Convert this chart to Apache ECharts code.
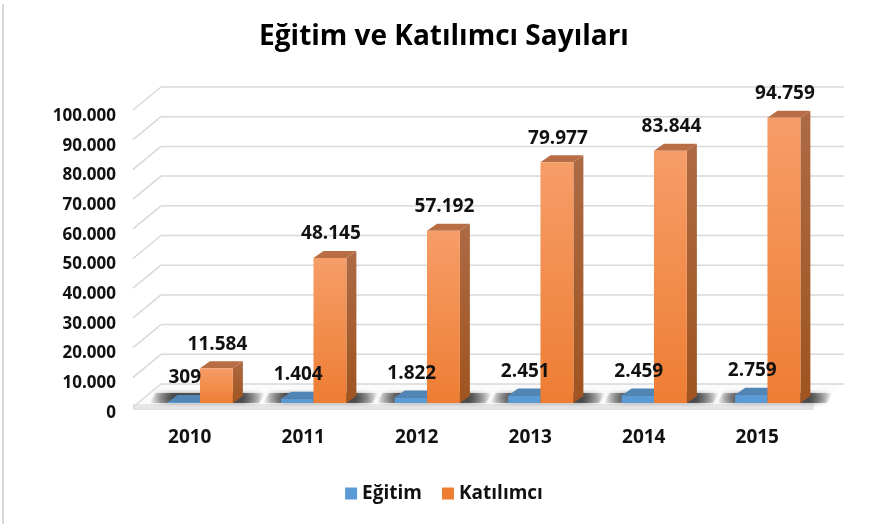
<html>
<head>
<meta charset="utf-8" />
<script src='https://cdn.jsdelivr.net/npm/echarts@6/dist/echarts.min.js'></script>
<style type="text/css">
	html, body, #main {
	width: 100%;
	height: 100%;
	margin: 0;
	background: #fff;
}
</style>
</head>
<body>

	<div id='main'></div>
	<script>
		var chart = echarts.init(document.getElementById('main'));

		// data
		var years = ['2010', '2011', '2012', '2013', '2014', '2015'];
		var egitim = [309, 1404, 1822, 2451, 2459, 2759];
		var katilimci = [11584, 48145, 57192, 79977, 83844, 94759];
		var yTicks = [0, 10000, 20000, 30000, 40000, 50000, 60000, 70000, 80000, 90000, 100000];

		var FONT = '"Open Sans", "DejaVu Sans", sans-serif';

		function fmt(n) {
			return String(n).replace(/\B(?=(\d{3})+(?!\d))/g, '.');
		}

		// depth of the floor / wall and of the bars
		var wallDx = 28, wallDy = -23;
		var barDx = 10, barDy = -7;

		// walls are drawn on grid 1 (front edge of the box), bars on grid 0 (middle of the depth)
		function wallItem(params, api) {
			var cs = params.coordSys;
			var y = api.coord([0, api.value(1)])[1];
			var xl = cs.x, xr = cs.x + cs.width;
			var children = [];
			if (api.value(1) === 0) {
				children.push({
					type : 'polygon',
					shape : { points : [ [xl, y], [xr, y], [xr + wallDx + 1, y + wallDy], [xl + wallDx, y + wallDy] ] },
					style : { fill : '#fbfbfb' }
				});
				children.push({
					type : 'rect',
					shape : { x : xl, y : y - 3, width : xr - xl, height : 4 },
					style : { fill : '#e6e6e6' }
				});
				children.push({
					type : 'line',
					shape : { x1 : xl, y1 : y + 2, x2 : xr, y2 : y + 2 },
					style : { stroke : '#d9d9d9', lineWidth : 1.5 }
				});
			}
			children.push({
				type : 'line',
				shape : { x1 : xl, y1 : y, x2 : xl + wallDx, y2 : y + wallDy },
				style : { stroke : '#d9d9d9', lineWidth : 1.5 }
			});
			children.push({
				type : 'line',
				shape : { x1 : xl + wallDx, y1 : y + wallDy, x2 : xr + wallDx + 2, y2 : y + wallDy },
				style : { stroke : '#d9d9d9', lineWidth : 1.5 }
			});
			return { type : 'group', children : children };
		}

		function barPos(api, i, kind) {
			var base = api.coord([i, 0]);
			var band = api.size([1, 0])[0];
			var c = base[0];
			if (kind === 0) return [c - 0.195 * band, c + 0.09 * band];
			return [c + 0.09 * band, c + 0.38 * band];
		}

		function barItem(kind, front, side, topc) {
			return function(params, api) {
				var i = api.value(0), v = api.value(1);
				var base = api.coord([i, 0])[1];
				var top = api.coord([i, v])[1];
				var p = barPos(api, i, kind);
				var x0 = p[0], x1 = p[1];
				var children = [];
				if (kind === 0) {
					// soft shadow on the floor
					var o = barPos(api, i, 1);
					var left = x0 - 18, right = o[1] + barDx + 16;
					children.push({
						type : 'polygon',
						shape : { points : [ [left, base], [right, base], [right + 6, base - 10], [left + 6, base - 10] ] },
						style : {
							fill : new echarts.graphic.LinearGradient(0, 0, 1, 0, [
								{ offset : 0, color : 'rgba(60,60,60,0)' },
								{ offset : 0.2, color : 'rgba(60,60,60,0.85)' },
								{ offset : 0.8, color : 'rgba(60,60,60,0.85)' },
								{ offset : 1, color : 'rgba(60,60,60,0)' } ]),
							shadowBlur : 4,
							shadowColor : 'rgba(0,0,0,0.5)'
						}
					});
				}
				children.push({
					type : 'polygon',
					shape : { points : [ [x1, top], [x1 + barDx, top + barDy], [x1 + barDx, base + barDy], [x1, base] ] },
					style : { fill : side }
				});
				children.push({
					type : 'polygon',
					shape : { points : [ [x0, top], [x0 + barDx, top + barDy], [x1 + barDx, top + barDy], [x1, top] ] },
					style : { fill : topc }
				});
				children.push({
					type : 'rect',
					shape : { x : x0, y : top, width : x1 - x0, height : base - top },
					style : { fill : front }
				});
				return { type : 'group', children : children };
			};
		}

		function labelItem(params, api) {
			var i = api.value(0);
			var children = [];
			[1, 2].forEach(function(d) {
				var v = api.value(d);
				var top = api.coord([i, v])[1];
				var p = barPos(api, i, d - 1);
				children.push({
					type : 'text',
					style : {
						text : fmt(v),
						x : (p[0] + p[1]) / 2 + 1,
						y : top - 24,
						align : 'center',
						verticalAlign : 'middle',
						font : 'bold 19px ' + FONT,
						fill : '#111'
					}
				});
			});
			return { type : 'group', children : children };
		}

		var orangeFront = new echarts.graphic.LinearGradient(0, 0, 0, 1, [
			{ offset : 0, color : '#f69d68' },
			{ offset : 1, color : '#ee7d33' } ]);
		var orangeSide = new echarts.graphic.LinearGradient(0, 0, 0, 1, [
			{ offset : 0, color : '#ad6a44' },
			{ offset : 1, color : '#a0541f' } ]);

		var option = {
			animation : false,
			title : {
				text : 'Eğitim ve Katılımcı Sayıları',
				left : 'center',
				top : 18,
				textStyle : { fontFamily : FONT, fontWeight : 'bold', fontSize : 28, color : '#000' }
			},
			legend : {
				data : [ 'Eğitim', 'Katılımcı' ],
				bottom : 16,
				left : 'center',
				icon : 'rect',
				itemWidth : 12,
				itemHeight : 12,
				itemGap : 20,
				textStyle : { fontFamily : FONT, fontWeight : 'bold', fontSize : 19, color : '#111' }
			},
			graphic : [ {
				type : 'line',
				shape : { x1 : 3, y1 : 4, x2 : 3, y2 : 524 },
				style : { stroke : '#d6d6d6', lineWidth : 2 }
			} ],
			grid : [
				{ left : 133, right : 74, top : 102, bottom : 121 },
				{ left : 133, right : 74, top : 110, bottom : 117 }
			],
			xAxis : [ {
				type : 'category',
				data : years,
				axisLine : { show : false },
				axisTick : { show : false },
				axisLabel : { margin : 25, fontFamily : FONT, fontWeight : 'bold', fontSize : 19, color : '#111' }
			}, {
				type : 'category',
				gridIndex : 1,
				data : years,
				show : false
			} ],
			yAxis : [ {
				type : 'value',
				min : 0,
				max : 100000,
				interval : 10000,
				splitLine : { show : false },
				axisLine : { show : false },
				axisTick : { show : false },
				axisLabel : { show : false }
			}, {
				type : 'value',
				gridIndex : 1,
				min : 0,
				max : 100000,
				interval : 10000,
				splitLine : { show : false },
				axisLine : { show : false },
				axisTick : { show : false },
				axisLabel : {
					margin : 17,
					verticalAlign : 'top',
					lineHeight : 12,
					fontFamily : FONT,
					fontWeight : 'bold',
					fontSize : 17,
					color : '#111',
					formatter : function(v) { return fmt(v); }
				}
			} ],
			series : [ {
				type : 'custom',
				silent : true,
				xAxisIndex : 1,
				yAxisIndex : 1,
				z : 1,
				renderItem : wallItem,
				data : yTicks.map(function(v) { return [ 0, v ]; })
			}, {
				name : 'Eğitim',
				type : 'custom',
				z : 3,
				itemStyle : { color : '#5b9bd5' },
				renderItem : barItem(0, '#5b9bd5', '#41719c', '#5185b6'),
				data : years.map(function(y, i) { return [ i, egitim[i] ]; })
			}, {
				name : 'Katılımcı',
				type : 'custom',
				z : 4,
				itemStyle : { color : '#ed7d31' },
				renderItem : barItem(1, orangeFront, orangeSide, '#b86d45'),
				data : years.map(function(y, i) { return [ i, katilimci[i] ]; })
			}, {
				type : 'custom',
				silent : true,
				z : 6,
				renderItem : labelItem,
				data : years.map(function(y, i) { return [ i, egitim[i], katilimci[i] ]; })
			} ]
		};

		chart.setOption(option);

		window.onresize = function() {
			chart.resize();
		}
	</script>
</body>
</html>
